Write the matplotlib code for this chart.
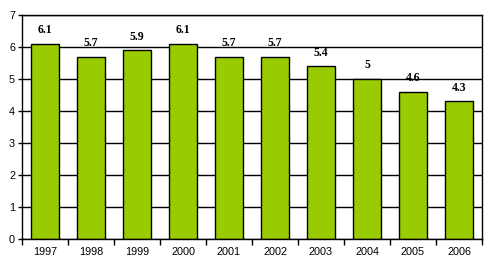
import matplotlib
matplotlib.use("Agg")
import matplotlib.pyplot as plt
import numpy as np

years = ["1997", "1998", "1999", "2000", "2001", "2002", "2003", "2004", "2005", "2006"]
values = [6.1, 5.7, 5.9, 6.1, 5.7, 5.7, 5.4, 5.0, 4.6, 4.3]
labels = ["6.1", "5.7", "5.9", "6.1", "5.7", "5.7", "5.4", "5", "4.6", "4.3"]

plt.rcParams['font.family'] = ['Liberation Sans', 'DejaVu Sans']

fig = plt.figure(figsize=(4.93, 2.70), dpi=100)
ax = fig.add_axes([22/493, 1-239/270, (482-22)/493, (239-15)/270])

x = np.arange(len(years))
ax.bar(x, values, width=0.63, color="#99cc00", edgecolor="black", linewidth=1, zorder=3)
for xi, v, lab in zip(x, values, labels):
    ax.annotate(lab, (xi, v), xytext=(0, 5.5), textcoords="offset points",
                ha="center", va="bottom", fontsize=8.5, fontweight="bold",
                family=["Liberation Serif", "DejaVu Serif"], zorder=1)

ax.set_xlim(-0.5, len(years) - 0.5)
ax.set_ylim(0, 7)
ax.set_yticks(range(0, 8))
ax.yaxis.grid(True, color="black", linewidth=1, zorder=2)
ax.set_axisbelow(False)
for gl in ax.yaxis.get_gridlines():
    gl.set_zorder(2)

ax.set_xticks(x)
ax.set_xticklabels(years, fontsize=7.8)
ax.tick_params(axis="x", length=0, pad=6)
ax.set_xticks(np.arange(-0.5, len(years)), minor=True)
ax.tick_params(axis="x", which="minor", length=4, width=1, direction="out")
ax.tick_params(axis="y", length=3, width=1, direction="out", labelsize=7.8, pad=2)

for s in ["left", "bottom", "right", "top"]:
    ax.spines[s].set_linewidth(1)
    ax.spines[s].set_zorder(4)

fig.savefig("out.png", dpi=100)
